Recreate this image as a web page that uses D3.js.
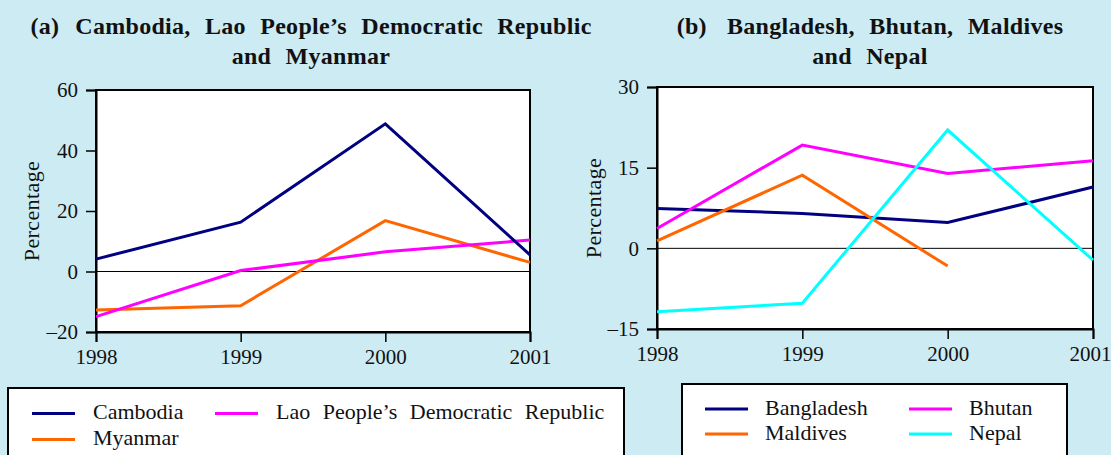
<!DOCTYPE html>
<html>
<head>
<meta charset="utf-8">
<script src="https://cdn.jsdelivr.net/npm/d3@7"></script>
<style>
  html, body { margin: 0; padding: 0; background: #cdebf3; }
  svg { display: block; font-family: "Liberation Serif", "Times New Roman", serif; }
  .title { font-weight: bold; font-size: 24px; letter-spacing: 0.3px; word-spacing: 8px; }
  .legend-text { font-size: 22px; word-spacing: 7px; }
</style>
</head>
<body>
<svg id="chart" width="1111" height="455"></svg>
<script>
// Years on the x axis
const years = [1998, 1999, 2000, 2001];

// Panel (a): growth, percentage
const cambodia = [4.1, 16.3, 48.8, 5.5];
const myanmar  = [-12.7, -11.3, 16.8, 3.0];
const lao      = [-14.9, 0.3, 6.5, 10.4];

// Panel (b): growth, percentage
const bangladesh = [7.4, 6.5, 4.8, 11.4];
const bhutan     = [3.7, 19.2, 13.9, 16.3];
const maldives   = [1.4, 13.6, -3.3, null];
const nepal      = [-11.8, -10.2, 22.0, -2.2];

const ticksA = [-20, 0, 20, 40, 60];
const ticksB = [-15, 0, 15, 30];

const navy = "#000080", orange = "#ff6600", magenta = "#ff00ff", cyan = "#00ffff";

const svg = d3.select("#chart");

function panel(opts) {
  const g = svg.append("g");
  const x = d3.scaleLinear().domain([years[0], years[years.length - 1]]).range([opts.left, opts.right]);
  const y = d3.scaleLinear().domain([opts.ticks[0], opts.ticks[opts.ticks.length - 1]]).range([opts.bottom, opts.top]);

  // plot area
  g.append("rect")
    .attr("x", opts.left).attr("y", opts.top)
    .attr("width", opts.right - opts.left).attr("height", opts.bottom - opts.top)
    .attr("fill", "#fff").attr("stroke", "#000").attr("stroke-width", 2);

  // zero line
  g.append("line")
    .attr("x1", opts.left).attr("x2", opts.right)
    .attr("y1", y(0)).attr("y2", y(0))
    .attr("stroke", "#000").attr("stroke-width", 1);

  // axes
  const yAxis = d3.axisLeft(y).tickValues(opts.ticks).tickSize(10).tickPadding(8)
    .tickFormat(d => d < 0 ? "\u2013" + Math.abs(d) : d);
  const gy = g.append("g").attr("transform", `translate(${opts.left},0)`).call(yAxis);
  const xAxis = d3.axisBottom(x).tickValues(years).tickSize(10).tickPadding(7).tickFormat(d3.format("d"));
  const gx = g.append("g").attr("transform", `translate(0,${opts.bottom})`).call(xAxis);
  [gy, gx].forEach(a => {
    a.select(".domain").attr("stroke", "#000").attr("stroke-width", 2);
    a.selectAll(".tick line").attr("stroke", "#000").attr("stroke-width", 1.5);
    a.selectAll(".tick text").attr("fill", "#111").style("font-size", "21px")
      .style("font-family", '"Liberation Serif", serif');
  });
  // the last year label sits against the page edge
  if (opts.clampLast) {
    gx.selectAll(".tick text").filter(d => d === years[years.length - 1])
      .attr("text-anchor", "end").attr("x", opts.clampLast - x(years[years.length - 1]));
  }

  // y label
  g.append("text")
    .attr("transform", `translate(${opts.labelX},${(opts.top + opts.bottom) / 2}) rotate(-90)`)
    .attr("text-anchor", "middle").attr("dy", "0.35em")
    .style("font-size", "22px").style("letter-spacing", "0.4px").attr("fill", "#111")
    .text("Percentage");

  // series
  const line = d3.line().defined(d => d[1] != null).x(d => x(d[0])).y(d => y(d[1]));
  opts.series.forEach(s => {
    g.append("path")
      .datum(years.map((yr, i) => [yr, s.values[i]]))
      .attr("d", line)
      .attr("fill", "none").attr("stroke", s.color)
      .attr("stroke-width", 3).attr("stroke-linejoin", "miter");
  });

  // title: panel letter, gap, then the heading on two lines
  const t1 = g.append("text").attr("class", "title")
    .attr("x", opts.titleX).attr("y", 34)
    .attr("text-anchor", "middle").attr("fill", "#111");
  t1.append("tspan").text(opts.letter);
  t1.append("tspan").attr("dx", opts.letterGap).text(opts.title[0]);
  g.append("text").attr("class", "title")
    .attr("x", opts.titleX).attr("y", 64)
    .attr("text-anchor", "middle").attr("fill", "#111").text(opts.title[1]);

  // legend
  const lg = g.append("g");
  lg.append("rect")
    .attr("x", opts.legend.x).attr("y", opts.legend.y)
    .attr("width", opts.legend.w).attr("height", 100)
    .attr("fill", "#fff").attr("stroke", "#000").attr("stroke-width", 2);
  opts.legend.items.forEach(it => {
    lg.append("line")
      .attr("x1", it.x).attr("x2", it.x + opts.legend.swatch)
      .attr("y1", it.y).attr("y2", it.y)
      .attr("stroke", it.color).attr("stroke-width", 3);
    lg.append("text").attr("class", "legend-text")
      .attr("x", it.x + opts.legend.swatch + opts.legend.gap).attr("y", it.y)
      .attr("dy", "0.27em").attr("fill", "#111")
      .text(it.name);
  });
}

panel({
  left: 96, right: 530, top: 90, bottom: 332,
  ticks: ticksA, labelX: 31,
  titleX: 311, letter: "(a)", letterGap: 16,
  title: ["Cambodia, Lao People\u2019s Democratic Republic", "and Myanmar"],
  series: [
    { values: myanmar, color: orange },
    { values: lao, color: magenta },
    { values: cambodia, color: navy }
  ],
  legend: {
    x: 8, y: 388, w: 616, swatch: 43, gap: 18,
    items: [
      { name: "Cambodia", color: navy, x: 32, y: 413.5 },
      { name: "Lao People\u2019s Democratic Republic", color: magenta, x: 215, y: 413.5 },
      { name: "Myanmar", color: orange, x: 32, y: 439.5 }
    ]
  }
});

panel({
  left: 657, right: 1093, top: 87, bottom: 329,
  ticks: ticksB, labelX: 593, clampLast: 1111,
  titleX: 870, letter: "(b)", letterGap: 20,
  title: ["Bangladesh, Bhutan, Maldives", "and Nepal"],
  series: [
    { values: bangladesh, color: navy },
    { values: maldives, color: orange },
    { values: bhutan, color: magenta },
    { values: nepal, color: cyan }
  ],
  legend: {
    x: 682, y: 384, w: 385, swatch: 43, gap: 17,
    items: [
      { name: "Bangladesh", color: navy, x: 705, y: 409 },
      { name: "Bhutan", color: magenta, x: 909, y: 409 },
      { name: "Maldives", color: orange, x: 705, y: 434 },
      { name: "Nepal", color: cyan, x: 909, y: 434 }
    ]
  }
});
</script>
</body>
</html>
